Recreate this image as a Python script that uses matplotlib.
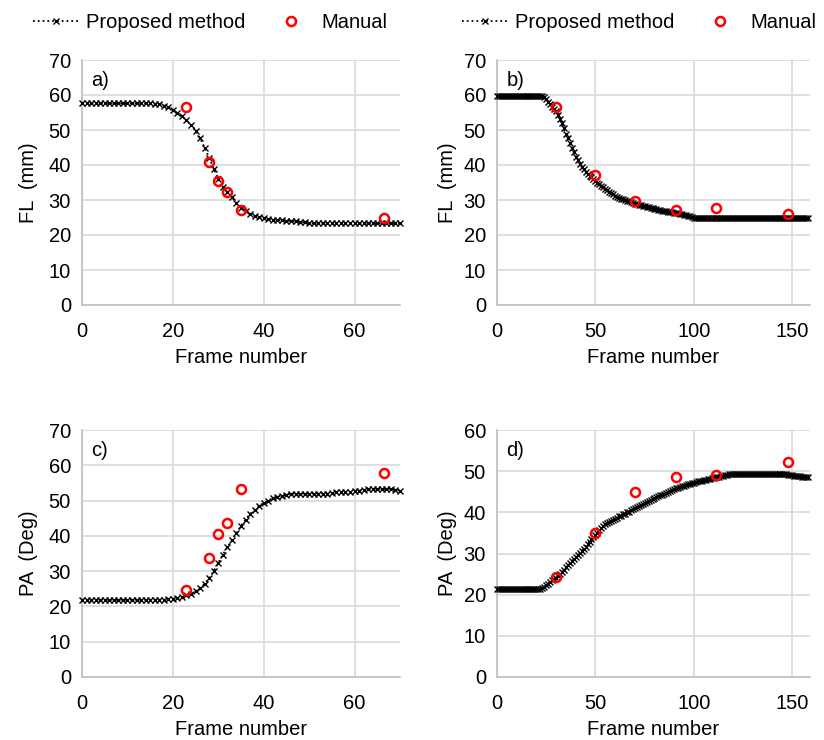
import matplotlib.pyplot as plt

plt.rcParams['font.family'] = ['Liberation Sans', 'DejaVu Sans']
plt.rcParams['font.size'] = 14.5

# frame-by-frame values
frames_short = list(range(71))
frames_long = list(range(159))

fl_a = [57.6, 57.6, 57.6, 57.6, 57.6, 57.6, 57.6, 57.6, 57.6, 57.6,
        57.6, 57.6, 57.6, 57.6, 57.6, 57.6, 57.5, 57.3, 57.0, 56.5,
        55.8, 54.8, 53.9, 52.8, 51.4, 49.8, 47.6, 45.0, 42.0, 39.0,
        36.0, 33.8, 32.2, 30.8, 29.2, 27.7, 26.8, 26.1, 25.5, 25.1,
        24.8, 24.6, 24.4, 24.3, 24.2, 24.1, 24.0, 23.9, 23.8, 23.6,
        23.4, 23.3, 23.3, 23.3, 23.3, 23.3, 23.3, 23.3, 23.3, 23.3,
        23.3, 23.3, 23.3, 23.3, 23.3, 23.3, 23.3, 23.3, 23.3, 23.3,
        23.3]

pa_c = [21.9, 21.9, 21.9, 21.9, 21.9, 21.9, 21.9, 21.9, 21.9, 21.9,
        21.9, 21.9, 21.9, 21.9, 21.9, 21.9, 21.9, 21.9, 21.9, 22.0,
        22.2, 22.4, 22.7, 23.1, 23.6, 24.3, 25.2, 26.4, 28.0, 30.0,
        32.4, 34.7, 36.8, 38.8, 40.8, 42.8, 44.6, 46.2, 47.4, 48.4,
        49.3, 50.0, 50.6, 51.0, 51.4, 51.7, 51.9, 52.0, 52.0, 52.0,
        52.0, 52.0, 52.0, 52.0, 52.0, 52.2, 52.3, 52.3, 52.4, 52.5,
        52.6, 52.8, 53.0, 53.2, 53.3, 53.3, 53.3, 53.3, 53.3, 53.1,
        52.8]

fl_b = [59.8, 59.8, 59.8, 59.8, 59.8, 59.8, 59.8, 59.8, 59.8, 59.8,
        59.8, 59.8, 59.8, 59.8, 59.8, 59.8, 59.8, 59.8, 59.8, 59.8,
        59.8, 59.8, 59.8, 59.8, 59.3, 58.8, 58.1, 57.4, 56.7, 56.0,
        55.3, 54.2, 53.2, 52.0, 50.5, 49.0, 47.6, 46.2, 44.9, 43.6,
        42.4, 41.3, 40.3, 39.5, 38.8, 38.1, 37.5, 37.0, 36.5, 36.0,
        35.5, 35.0, 34.5, 34.0, 33.6, 33.2, 32.8, 32.4, 32.0, 31.6,
        31.2, 30.9, 30.6, 30.4, 30.2, 30.0, 29.8, 29.6, 29.4, 29.2,
        29.0, 28.9, 28.7, 28.6, 28.4, 28.3, 28.1, 28.0, 27.8, 27.6,
        27.4, 27.3, 27.2, 27.1, 27.0, 26.9, 26.8, 26.7, 26.6, 26.5,
        26.4, 26.3, 26.2, 26.0, 25.9, 25.7, 25.6, 25.4, 25.3, 25.2,
        25.0, 25.0, 25.0, 25.0, 25.0, 25.0, 25.0, 25.0, 25.0, 25.0,
        25.0, 25.0, 25.0, 25.0, 25.0, 25.0, 25.0, 25.0, 25.0, 25.0,
        25.0, 25.0, 25.0, 25.0, 25.0, 25.0, 25.0, 25.0, 25.0, 25.0,
        25.0, 25.0, 25.0, 25.0, 25.0, 25.0, 25.0, 25.0, 25.0, 25.0,
        25.0, 25.0, 25.0, 25.0, 25.0, 25.0, 25.0, 25.0, 25.0, 25.0,
        25.0, 25.0, 25.0, 25.0, 25.0, 25.0, 25.0, 25.0, 25.0]

pa_d = [21.4, 21.4, 21.4, 21.4, 21.4, 21.4, 21.4, 21.4, 21.4, 21.4,
        21.4, 21.4, 21.4, 21.4, 21.4, 21.4, 21.4, 21.4, 21.4, 21.4,
        21.4, 21.4, 21.4, 21.6, 21.9, 22.3, 22.7, 23.1, 23.5, 23.8,
        24.1, 24.6, 25.1, 25.5, 26.0, 26.6, 27.1, 27.6, 28.1, 28.6,
        29.1, 29.6, 30.1, 30.6, 31.2, 31.7, 32.3, 32.9, 33.5, 34.0,
        34.5, 35.1, 35.7, 36.2, 36.7, 37.1, 37.4, 37.7, 38.0, 38.2,
        38.5, 38.7, 39.0, 39.2, 39.5, 39.7, 40.0, 40.2, 40.5, 40.8,
        41.0, 41.3, 41.5, 41.8, 42.0, 42.3, 42.5, 42.7, 43.0, 43.2,
        43.4, 43.7, 43.9, 44.1, 44.3, 44.5, 44.7, 44.9, 45.1, 45.4,
        45.6, 45.8, 46.0, 46.2, 46.4, 46.5, 46.7, 46.8, 47.0, 47.1,
        47.2, 47.3, 47.5, 47.6, 47.7, 47.8, 47.9, 48.0, 48.1, 48.3,
        48.4, 48.5, 48.6, 48.7, 48.8, 48.9, 49.0, 49.1, 49.2, 49.3,
        49.4, 49.4, 49.4, 49.4, 49.4, 49.4, 49.4, 49.4, 49.4, 49.4,
        49.4, 49.4, 49.4, 49.4, 49.4, 49.4, 49.4, 49.4, 49.4, 49.4,
        49.4, 49.3, 49.3, 49.3, 49.3, 49.3, 49.3, 49.3, 49.1, 49.0,
        49.0, 48.9, 48.9, 48.8, 48.8, 48.7, 48.7, 48.6, 48.6]

manual_frames_short = [23, 28, 30, 32, 35, 66.5]
manual_fl_a = [56.5, 41.0, 35.3, 32.4, 27.1, 25.0]
manual_pa_c = [24.6, 33.7, 40.5, 43.6, 53.3, 57.8]

manual_frames_long = [30, 50, 70, 91, 111, 148]
manual_fl_b = [56.5, 37.2, 29.8, 27.1, 27.7, 26.0]
manual_pa_d = [24.2, 35.1, 45.0, 48.5, 49.0, 52.3]

W, H = 824, 740
fig = plt.figure(figsize=(W / 100, H / 100), dpi=100)


def px_axes(left, top, right, bottom):
    return fig.add_axes([left / W, 1 - bottom / H, (right - left) / W, (bottom - top) / H])


panels = [
    # axes box, x data, y data, manual x, manual y, xmax, xstep, ymax, letter, ylabel
    ((82, 60, 400, 305), frames_short, fl_a, manual_frames_short, manual_fl_a, 70, 20, 70, 'a)', 'FL  (mm)'),
    ((497, 60, 810, 305), frames_long, fl_b, manual_frames_long, manual_fl_b, 159, 50, 70, 'b)', 'FL  (mm)'),
    ((82, 430, 400, 677), frames_short, pa_c, manual_frames_short, manual_pa_c, 70, 20, 70, 'c)', 'PA  (Deg)'),
    ((497, 430, 810, 677), frames_long, pa_d, manual_frames_long, manual_pa_d, 159, 50, 60, 'd)', 'PA  (Deg)'),
]

handles = None
for box, xs, ys, mx, my, xmax, xstep, ymax, letter, ylabel in panels:
    ax = px_axes(*box)
    l1, = ax.plot(xs, ys, linestyle=':', color='black', linewidth=1.3,
                  marker='x', markersize=4.5, markeredgewidth=1.0, clip_on=False,
                  label='Proposed method', zorder=3)
    l2, = ax.plot(mx, my, linestyle='none', marker='o', markersize=6.5,
                  markerfacecolor='none', markeredgecolor='#ff0000',
                  markeredgewidth=1.8, clip_on=False, label='Manual', zorder=4)
    handles = [l1, l2]
    ax.set_xlim(0, xmax)
    ax.set_ylim(0, ymax)
    ax.set_xticks(range(0, xmax + 1, xstep))
    ax.set_yticks(range(0, ymax + 1, 10))
    ax.grid(True, color='#d9d9d9', linewidth=1.2)
    ax.set_axisbelow(True)
    for s in ('top', 'right'):
        ax.spines[s].set_visible(False)
    for s in ('left', 'bottom'):
        ax.spines[s].set_color('#bfbfbf')
        ax.spines[s].set_linewidth(1.2)
    ax.tick_params(axis='both', length=0, labelsize=14.5, colors='black')
    ax.tick_params(axis='x', pad=12)
    ax.tick_params(axis='y', pad=8)
    ax.set_xlabel('Frame number', fontsize=14.5, labelpad=5)
    ax.text(0.03, 0.918, letter, transform=ax.transAxes, fontsize=14.5,
            ha='left', va='center')
    lx = 29 if box[0] < 400 else 447
    fig.text(lx / W, 1 - (box[1] + box[3]) / 2 / H, ylabel, rotation=90,
             ha='center', va='center', fontsize=14.5)

for x0 in (33, 462):
    fig.legend(handles=handles, loc='center left', bbox_to_anchor=(x0 / W, 1 - 23 / H),
               ncol=2, frameon=False, fontsize=14.5, handlelength=2.3,
               handletextpad=0.35, columnspacing=1.1, borderpad=0,
               borderaxespad=0, numpoints=1)

fig.savefig('out.png', dpi=100)
